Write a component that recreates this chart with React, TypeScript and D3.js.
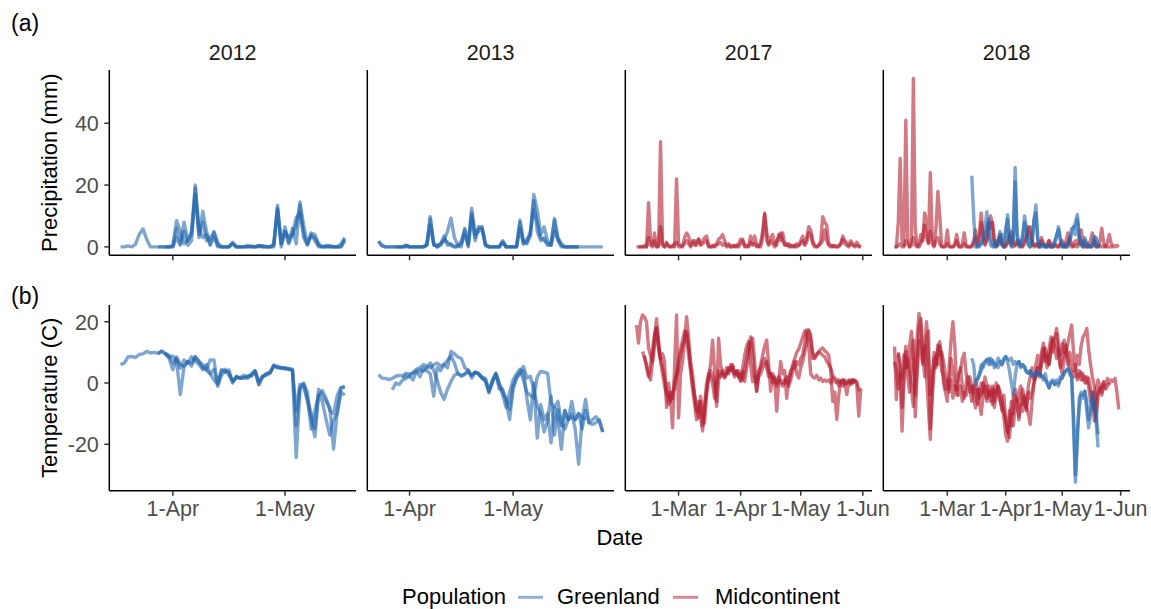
import React from "react";
import * as d3 from "d3";

// facets and groups
const years = ["2012", "2013", "2017", "2018"];
const populations = ["Greenland", "Midcontinent"];
const popColors = ["#2166AC", "#B2182B"];
// month breaks shown on the date axis (Mar..Jun, 0-based)
const breakMonths = [2, 3, 4, 5];

// ---- daily precipitation (mm), one array per tracked bird ----
const precip2012a = [
  0, 0, 0.3, 0, 0.8, 4, 5.8, 2.5, 0, 0, 0, 0, 0, 0,
  0, 3, 0.5, 8, 2, 4, 17, 3, 11.5, 5, 1, 3, 0.5, 0, 0, 0, 1, 0, 0, 0, 0.5, 0, 0, 0.5, 0, 0, 0, 1, 12, 1,
  5, 1, 4, 9.5, 11, 4, 1, 3.5, 3, 0.5, 0, 0, 0.5, 0, 0, 0, 2,
];
const precip2012b = [
  0, 0, 0, 0,
  0.5, 8.5, 5, 1, 2, 5, 20, 6, 3, 4, 0.5, 5, 1.5, 0, 0, 0, 1.5, 0, 0, 0, 0, 0.3, 0, 0, 0.5, 0, 0, 0.5, 13.5, 1,
  6.5, 1.5, 6, 1, 14.5, 7, 1, 4.5, 4, 1, 0, 0.5, 0, 0, 0, 1, 3,
];
const precip2012c = [
  0, 0,
  0, 6, 1, 5, 0.5, 2, 19, 4, 8, 2, 3, 4.5, 0, 0, 0, 0, 1, 0, 0, 0, 0, 0, 0, 0.4, 0, 0, 0, 0, 12.5, 0,
  5, 3, 4, 7, 13.5, 3, 0.5, 4, 2, 0, 0, 0, 0, 0, 0, 0, 2.5,
];
const precip2013a = [
  1.8, 0.5, 0, 0, 0, 0, 0, 0, 0.5,
  0, 0, 0, 0, 0, 0.5, 7, 1, 0, 1, 2, 5, 9.3, 3, 0.5, 0, 6, 1, 12.5, 4, 5, 6, 0.5, 0, 0, 0, 0, 1.5, 0, 0,
  0, 0, 6, 1, 2.5, 4, 17, 12, 4, 6.5, 2, 0.5, 5, 2.5, 0.5, 0, 0, 0, 0, 0, 0, 0, 0, 0, 0, 0, 0,
];
const precip2013b = [
  1.8, 0.3, 0, 0, 0, 0, 0, 0, 0.5,
  0, 0, 0, 0, 0, 1, 9.8, 0.5, 0.5, 1, 3.5, 0.5, 1, 0, 0.5, 1, 4, 0.5, 11, 3, 6.5, 6.5, 1, 0, 0, 0, 0, 2, 0, 0,
  0, 0, 8.6, 2, 1, 3.5, 15, 5, 2, 3, 0.5, 1, 9.2, 3, 1, 0, 0, 0, 0, 0,
];
const precip2013c = [
  0, 0, 0, 0,
  0, 0, 0, 0, 0, 0.5, 9, 1, 0, 0.5, 2.5, 1.5, 0.5, 0, 0, 2, 5.5, 0, 10, 2, 6, 6, 0.5, 0, 0, 0, 0, 1.5, 0, 0,
  0, 0, 8, 1, 1.5, 5, 12, 8, 3, 2, 1, 0.5, 8.5, 2, 0, 0, 0, 0, 0, 0,
];
const precip2017a = [
  0, 0, 0, 0, 0.5, 0, 3, 0.5, 0, 4.5, 0, 0, 34, 1, 0, 1.5, 0, 0, 0.5, 0, 22,
  1, 0.5, 0, 3, 4.5, 3.5, 0.5, 1, 2, 0.5, 2.5, 1, 2, 3, 3.5, 0.5, 0, 0, 0.5, 1, 2.5, 3, 4, 2, 0.5, 1, 0, 0.5, 0, 0.5, 0,
  1, 2, 0.5, 0, 0.5, 3.5, 1, 3.5, 0.5, 0, 1.5, 5, 10.5, 5, 1, 3, 4, 1, 0.5, 4, 2, 4.5, 1, 0.5, 1, 0, 0.5, 0, 1, 0.5,
  2, 3.5, 1, 3, 6.5, 5.5, 2, 0.5, 0, 0.5, 2, 9.8, 8, 7, 1, 0.5, 0, 0.5, 0, 0.5, 1, 3.5, 2, 1.5, 0.5, 2, 1, 0.5, 1.5, 0.5, 0,
];
const precip2017b = [
  0, 0, 0, 0, 0, 14.3, 2, 0.5, 2, 0, 0.5, 6.5, 0.5, 0, 1, 0.5, 0, 0, 1, 1.5,
  0, 0, 0.5, 1, 2, 1, 0, 2, 0.5, 1.5, 2.5, 0.5, 1, 1.5, 2, 0, 0, 0.5, 0, 0.5, 1, 1.5, 0.5, 1, 0, 0.5, 0, 0, 0.5, 0, 1,
  2.5, 2.5, 0, 0.5, 0, 1.5, 0.5, 1, 0, 0.5, 0, 3, 11, 2, 0.5, 2, 1, 0, 2, 3, 4.5, 2, 0.5, 1, 0, 0.5, 0, 0.5, 0, 0.5,
  1, 2, 0.5, 1.5, 4.5, 4, 1, 0, 0, 0.5, 1, 2, 5.5, 2, 0.5, 0, 0.5, 0, 0, 0, 1, 2.5, 1, 0.5, 0, 1, 0.5, 0, 0.5, 0, 0,
];
const precip2018a = [
  0, 0, 8, 28.6, 2, 0.5, 41, 3, 0, 2, 54.5, 6, 0.5, 0, 1, 3, 11, 8, 1.5, 24, 4, 0.5, 6, 17.9, 10, 0.5, 0, 0.5,
  5.5, 0.5, 0, 0, 1, 4, 0.5, 0, 1, 4.5, 0.5, 0, 0, 0.5, 2, 5.5, 1, 2, 8, 3, 1, 2, 6, 10, 7, 1, 0.5, 2, 4, 1, 0,
  0.5, 1, 3, 5, 2, 0.5, 1, 2, 0.5, 0, 1, 3, 5, 6.5, 2, 0.5, 1, 0, 0.5, 3, 1, 0.5, 0, 2, 0.5, 0, 1, 0.5, 0, 1,
  0.5, 0, 2, 4.5, 1, 0, 0.5, 2, 1, 3, 5.5, 2, 0.5, 0, 1, 2, 4.5, 1, 0, 0.5, 2, 6, 1, 0, 1.5, 4, 1, 0.5, 0, 0.5, 0,
];
const precip2018b = [
  0, 0, 0.5, 1, 0, 0, 2, 1, 0, 0.5, 3, 0.5, 0, 1, 4, 2, 7, 3, 1, 5, 1, 0, 2, 3, 1, 0, 0, 0,
  1, 0, 0, 0, 0.5, 2, 0, 0, 0, 1, 0, 0, 0, 0, 1, 3, 0.5, 4, 11, 4, 0.5, 3, 8, 6, 8, 2, 0, 1, 3, 0.5, 0,
  0, 2, 4, 1, 0, 0.5, 2, 1, 0, 0.5, 2, 4, 6.5, 3, 1, 0, 0.5, 1, 0, 2, 0.5, 0, 1, 2, 0, 0, 0.5, 0, 0, 1,
  2, 0.5, 0, 1, 3, 1, 0, 0.5, 0, 1, 2, 0.5, 0, 0, 0.5, 0, 1, 2, 0, 0, 0.5, 0, 0, 0.5, 0, 0, 0, 0,
];
const precip2018c = [
  23, 10, 0, 0, 0, 1, 2, 4, 6, 9, 3, 1, 0, 2, 0.5, 3, 4, 0.5,
  6, 9, 2, 0, 4, 21, 3, 0.5, 1, 4, 8, 5, 1, 0, 2, 9, 11, 2, 0, 0.5, 1, 0, 0.5, 0, 0, 1, 2, 4, 5.5, 2,
  0, 0.5, 0, 1, 3, 6, 6, 8, 10.5, 4, 1, 0, 2, 1, 0, 0.5, 0, 1, 3, 1, 0,
];
const precip2018d = [
  0, 0, 0.5, 1, 3, 6, 11.4, 4, 0.5, 0, 1, 0, 2, 5, 1, 0,
  4, 10.4, 3, 0.5, 2, 25.7, 5, 0, 0.5, 3, 10, 6, 0.5, 0, 1, 8, 13.6, 3, 0, 0, 0.5, 0, 0, 0.5, 0, 0, 1, 3, 6.5, 3,
  0, 0, 0.5, 0, 2, 4, 6.5, 4, 9, 3, 0.5, 0, 3, 1, 0, 0, 0.5, 3.5, 1, 0, 0,
];

// ---- daily mean temperature (C) ----
const temp2012a = [
  6, 6.5, 8.5, 8.7, 8.3, 9.3, 9.5, 10.3, 9.8, 10, 9.7, 10.5, 9.5, 8,
  4.3, 8.5, 6, 5.5, 7, 6.5, 8.6, 7, 5, 4.5, 7.5, 7.5, -1.1, 2.5, 4, 3.5, 0.5, 2, 1.5, 1.8, 2.3, 2.5, 4, -0.5, 2, 3, 3.5, 5.5, 5, 5,
  4.8, 4.5, 4, -24.3, -2, -1, -6, -12, -17.5, -4, -6, -12, -17, -12, -10, -3, -4,
];
const temp2012b = [
  9.5, 10.3, 9.5, 8.5,
  8.8, 7, -3.8, 5.4, 7, 5.5, 8.5, 7, 6, 4, 3, 1, -0.5, 4.3, 3.5, 4.3, 0, 2.2, 1.5, 1.6, 2, 2.2, 3.8, -0.5, 2.2, 2.5, 3.2, 5.9, 5, 4.8,
  5, 4.5, 4.3, -9, -0.5, -0.5, -5, -10, -15, -2, -4, -6, -8, -21.6, -9, -1.6, -1,
];
const temp2012c = [
  9.8, 9,
  6.5, 8, 4.8, 7.5, 6.5, 8.6, 7.2, 6, 4.3, 6, 3, 4.5, 0, 4, 4.5, 2.5, 0.5, 1.8, 1.8, 2.5, 1.5, 3, 4, 0.5, 2, 3, 3.5, 5.5, 5.5, 5,
  4.5, 4.8, 4.5, -14, -1.5, 0, -3, -15, -9, -4, -2.5, -5, -9, -10, -4, -1.5, -1.5,
];
const temp2013a = [
  2.7, 1.6, 1.5, 1.1, 1.5, 2.2, 2.5, 2.4, 3.2,
  3, 3.2, 3.5, 4.3, 3.8, 5, 6.5, 4, 1, -3, -5.4, -2, 0.5, 2.5, 3.2, 2.2, 2.8, 4.3, 1.6, 3.5, 3.2, 1.6, 0.5, -3.2, 0, 3.2, 0, -3, -5, -8.6,
  -1, 2, 3.5, 5.4, 1.6, 2.2, -2, -7.5, -10, -16, -12, -4.3, -17, -8.6, -14, -9, -12, -11, -12, -10, -15, -9, -13, -13.5, -13, -12, -16,
];
const temp2013b = [
  -2.2, 0, -0.5, 1, 1.5,
  2.2, 1, 4, 2, 5, 4, 3, -4.3, 5, 4, 6, 5, 10.3, 9.5, 8.5, 8, 5, 4, 2.5, 3.5, 3, 1.5, 1, -2.5, 0.5, 3, -2, -2, -6, -11.9,
  -2, 1.5, 3, 4, -5, -12, 0, -18, -7, -12, -10, -19.5, -8, -12, -21.6, -9, -12, -10, -15, -26.5, -12, -5.4, -13, -12, -11, -12.5, -16,
];
const temp2013c = [
  1.6, 2.5,
  2.2, 3.5, 4.5, 5, 6, 5.5, 5, 6, 6.5, 5.5, 6, 7.5, 8.8, 6.5, 3, 2.5, 3, 3.5, 2.5, 3.5, 2.8, 2, 1.5, -2.8, 1, 2.8, -0.5, -4, -8, -3,
  1, 3, 4.5, 1, -3, -4, -5, 2, 3.8, 3.5, 3.2, -6.5, -8, -6, -13, -15, -12, -6, -12, -10, -11, -12,
];
const temp2017a = [
  18.9, 13, 20, 22.2, 21.5, 20, 11.4, 9, 7, 15, 21, 14, 8, 9.5, 7, -8, 0, -5, -14.6, 5,
  22.2, -11.4, 3, 7, 14, 21.6, 15, 5, 0, -4, -9.2, -6, -11, -15.7, -8, -3, 2.7, 6, 14, 4,
  -6, 14.6, 6, 3, 1.6, 3, 5, 4, 6, 3, 3.8, 2, 0.5, 5, 9, 12, 13.5, 6, 0.5, 2,
  -2.7, 3, 6, 9, 12, 14, 6, -2.7, 3, 1, -9.2, 0, 7, 3, 4, -5, 2, 4, 5, 7,
  3, 1.6, 5, 7, 10, 13, 17.3, 14, 10, 8, 9, 10.3, 11, 11.4, 10.5, 10, 9, 4, -6, -3,
  -11.9, -4, 0.5, 1, 0, -3.8, 0, 1, 0, 1, -0.5, -10.8, -2,
];
const temp2017b = [
  10.3, 8, 6, 3, 1, 7, 12.4, 17.8, 12, 8, 5, 1.6, -2, -4, -6, -3, -2, 2, 5, 9.2,
  12, 14, 16.8, 12, 7, 3, -4, -8, -11.4, -4.3, -10, -13, -3.8, 1, 4, 2.7, 0, -7.6, 1, 3,
  3.2, 2, 3.2, 4, 5, 5.4, 3, 2.7, 4, 1, 3.8, 0.5, 5, 9, 13, 14.6, 7, -2.7, 2, 3,
  4.9, 6, 7, 4, 3, 1.6, 1, 0, 2, 1, 0, 1, 0.5, -1.1, 1, 3.8, 5, 7, 6, 8,
  9.2, 13, 17.3, 17, 15.7, 8, 8.5, 9.5, 10, 9.7, 9, 8.6, 7, 6, 4.9, 2.5, 1.6, 1, -1, 0.5,
  1, -0.5, 0, 1, 0, 1, 0.5, 0.5, -2.2, -1.5,
];
const temp2017c = [
  9, 5, 2, 6, 11, 16, 18, 11, 7, 3, -1, -4, -7, -3, -5, 1, 3, 7, 11, 14,
  17, 15, 9, 4, -2, -7, -12, -9, -6, -14, -7, 0, 3, 2, 0, -5, 1, 4, 2, 4,
  3, 5, 3, 6, 4, 2, 4, 2, 3, 1, 4, 8, 12, 15, 9, 2, 0, 4, 5, 7,
  8, 5, 2, 3, 0, 2, -1, 1, 0, -1, 0, 2, 0, 3, 6, 8, 10, 11, 13, 15,
  17, 16, 12, 3, 2, 1.6, 2.5, 1, 1.6, 0.5, 1, 0.5, 1, 0, 1.6, 0.5, 0, 1, 0, -1,
  1, 0, 0.5, -0.5, 1, 0,
];
const temp2018a = [
  11.9, -5.4, 9.2, 3, -15.7, 0, 10.3, 5, 12, 16.8, 8, -11, 3, 14, 10, 6, 12, 2, -8, -18.4,
  -2, 10, 6, 11, 13.5, 9, 0, -3, -6, 5, 14, 20, 12, -2, 3, 4, 8, 9.7, 3, 0,
  2, -1, -3, 1, -2, -5, 0, -3, 2, -1, -4, -6, -2, -8, -3, -1, -5, -9, -4, -12,
  -16, -9, -14, -4, -2, -6, -3, -1, -7, -5, -8, -10, -13.5, -6, 0, 3, 5, 2, 6, 8,
  11.4, 9, 6, 12, 14, 15, 17.8, 13, 6, 3, 8, 10, 13, 16, 18.9, 10, 5, 9, 6, 12,
  15, 16, 17.8, 11, 6, 2, -1, -12.4, -4, -2, -1, 0.5, -0.5, 1.5, 0, 1, 0.5, 1.5, -3, -8.6,
];
const temp2018b = [
  7, 4, -2, 3, 1.6, 9.2, 5, 8, 3.8, -2, -7.6, 6, 15, 22.7, 18, 7, 12, 20, 8, -3.8,
  3, 8.1, 5, 12.4, 9, 10, 7, 3, 0.5, -2, 1, -4.9, -1, -1.6, -4, -1, -6, -3, -4, -0.5,
  -3, -1, -5, -8.1, -2, -6, -10.3, -4, -1, -5, -2.7, -4, -1, -6, -3, -1, -2.7, -5, -9, -12,
  -15, -17.8, -10, -14, -8.1, -5, -11, -7, -9.2, -4, -8, -3, -5, -2.7, 0, 2, 4.9, 3, 8, 11.4,
  7, 9, 6, 10, 14.6, 12, 8, 11, 9.2, 13, 10, 12.4, 8, 5, 3.8, 2, 4, 1, 2.7, 3.5,
  1, 2, 0, 1.6, -2, -5, -12.4, -8, -3, -1.6, -3, -1, -2,
];
const temp2018c = [
  10, 6, -8, 4, 12, 2, -3, 8, 14, -4, 5, 18, 21, 10, 2, 15, 17, -15, -5, 4,
  9, 6, 12, 4, 2, -2, 1, -3, 8, 4, 0, -4, 2, 5, -1, -5, 0, 2, -2, -6,
  -1, -3, -7, -2, -4, 0, -3, -6, -1, -3, -7, -2, 0, -4, -6, -8, -11, -17, -19, -12,
  -6, -10, -4, -7, -12, -5, -2, -6, -9, -1, 2, 5, 1, 6, 9, 5, 10, 13, 8, 5,
  11, 15, 10, 13, 16, 9, 5, 8, 14, 9, 6, 10, 7, 4, 6, 2, 4, 1, 3, 0,
  2, -1, -6, -3, -9, -2, 1, -1, -4, 0, -2, -1, 0,
];
const temp2018d = [
  8.1, 6, -0.5, 1, 2.7, 4, 6.5, 7, 7.6, 6, 8, 7, 5, 6, 8.1, 7, 6, 8, 8.6, 7,
  4, 0, -3.8, 2, 6, 7, 5, 6, 5.4, 4, 3.2, 4, 2, 2.7, 3.5, 2.5, 3.2, 2, 1, 3,
  0, -1.6, 0.5, 1, -0.5, 0, -1, 1, 2, 3, 4, 4.9, 3, 1.6, -10, -30, -15.7, -8, -3.8, -5,
  -2.7, -9, -14.6, -10, -5, -7, -13, -21,
];
const temp2018e = [
  1, 2.7, 5.9, 5, 6.5, 7.6, 8, 6, 7.3, 6.5, 5.5, 5, 7, 6, 7.5, 8.6, 8, 7.5, 8.1, 6,
  7, 6.5, 7, 5.5, 6, 5, 3.5, 3.2, 4, 3, 2.5, 3, 3.8, 3.2, 2.5, 2, 1, 0, -1.6, 0,
  0.5, -0.5, 1, 0, 2, 1.5, 3.5, 4, 4.5, 3.5, 2, -15, -32.4, -20, -5, -3, -4, -2.7, -6, -12,
  -8, -3, -7, -10, -16.8,
];

type Track = { year: string; pop: string; start: string; values: number[] };

const precipTracks: Track[] = [
  { year: "2012", pop: "Greenland", start: "2012-03-18", values: precip2012a },
  { year: "2012", pop: "Greenland", start: "2012-03-28", values: precip2012b },
  { year: "2012", pop: "Greenland", start: "2012-03-30", values: precip2012c },
  { year: "2013", pop: "Greenland", start: "2013-03-23", values: precip2013a },
  { year: "2013", pop: "Greenland", start: "2013-03-23", values: precip2013b },
  { year: "2013", pop: "Greenland", start: "2013-03-28", values: precip2013c },
  { year: "2017", pop: "Midcontinent", start: "2017-02-08", values: precip2017a },
  { year: "2017", pop: "Midcontinent", start: "2017-02-09", values: precip2017b },
  { year: "2018", pop: "Midcontinent", start: "2018-02-01", values: precip2018a },
  { year: "2018", pop: "Midcontinent", start: "2018-02-01", values: precip2018b },
  { year: "2018", pop: "Greenland", start: "2018-03-14", values: precip2018c },
  { year: "2018", pop: "Greenland", start: "2018-03-16", values: precip2018d },
];

const tempTracks: Track[] = [
  { year: "2012", pop: "Greenland", start: "2012-03-18", values: temp2012a },
  { year: "2012", pop: "Greenland", start: "2012-03-28", values: temp2012b },
  { year: "2012", pop: "Greenland", start: "2012-03-30", values: temp2012c },
  { year: "2013", pop: "Greenland", start: "2013-03-23", values: temp2013a },
  { year: "2013", pop: "Greenland", start: "2013-03-27", values: temp2013b },
  { year: "2013", pop: "Greenland", start: "2013-03-30", values: temp2013c },
  { year: "2017", pop: "Midcontinent", start: "2017-02-08", values: temp2017a },
  { year: "2017", pop: "Midcontinent", start: "2017-02-11", values: temp2017b },
  { year: "2017", pop: "Midcontinent", start: "2017-02-12", values: temp2017c },
  { year: "2018", pop: "Midcontinent", start: "2018-02-01", values: temp2018a },
  { year: "2018", pop: "Midcontinent", start: "2018-02-01", values: temp2018b },
  { year: "2018", pop: "Midcontinent", start: "2018-02-03", values: temp2018c },
  { year: "2018", pop: "Greenland", start: "2018-03-14", values: temp2018d },
  { year: "2018", pop: "Greenland", start: "2018-03-17", values: temp2018e },
];

const parseDay = d3.timeParse("%Y-%m-%d");
const fmtTick = d3.timeFormat("%-d-%b");

function toPoints(t: Track): [Date, number][] {
  const s = parseDay(t.start) as Date;
  return t.values.map((v, i) => [d3.timeDay.offset(s, i), v]);
}

// ggplot-like 5% expansion
function expand(a: number, b: number): [number, number] {
  const s = b - a;
  return [a - s * 0.05, b + s * 0.05];
}

const FONT = "Liberation Sans, Arial, Helvetica, sans-serif";
const W = 1151;
const H = 609;
const panelLeft = 109.3;
const panelW = 246.7;
const panelGap = 11.3;
const lineW = 3.4;

const rows = [
  { key: "precip", top: 70, bottom: 255.3, tracks: precipTracks, title: "Precipitation (mm)", tag: "(a)", tagY: 30.5 },
  { key: "temp", top: 305, bottom: 490.7, tracks: tempTracks, title: "Temperature (C)", tag: "(b)", tagY: 304 },
];

export default function App() {
  // free x per year column
  const xScales = years.map((yr, i) => {
    const dates = [...precipTracks, ...tempTracks]
      .filter((t) => t.year === yr)
      .flatMap((t) => toPoints(t).map((p) => +p[0]));
    const [a, b] = expand(d3.min(dates)!, d3.max(dates)!);
    const left = panelLeft + i * (panelW + panelGap);
    return d3.scaleTime().domain([new Date(a), new Date(b)]).range([left, left + panelW]);
  });

  return (
    <svg width={W} height={H} style={{ position: "absolute", left: 0, top: 0, background: "#fff" }} fontFamily={FONT}>
      {rows.map((row, ri) => {
        const vals = row.tracks.flatMap((t) => t.values);
        const y = d3.scaleLinear().domain(expand(d3.min(vals)!, d3.max(vals)!)).range([row.bottom, row.top]);
        const yTicks = y.ticks(3);
        const midY = (row.top + row.bottom) / 2;
        return (
          <g key={row.key}>
            <text x={11} y={row.tagY} fontSize={23} fill="#000">{row.tag}</text>
            <text transform={`translate(57,${midY}) rotate(-90)`} textAnchor="middle" fontSize={22} fill="#000">
              {row.title}
            </text>
            {years.map((yr, ci) => {
              const x = xScales[ci];
              const [x0, x1] = x.range();
              const line = d3.line<[Date, number]>().x((d) => x(d[0])).y((d) => y(d[1]));
              const tracks = row.tracks
                .filter((t) => t.year === yr)
                .sort((a, b) => populations.indexOf(b.pop) - populations.indexOf(a.pop));
              const xTicks = x.ticks(d3.timeMonth.every(1)!).filter((d) => breakMonths.includes(d.getMonth()));
              return (
                <g key={yr}>
                  {ri === 0 && (
                    <text x={(x0 + x1) / 2} y={60} textAnchor="middle" fontSize={21.5} fill="#1a1a1a">{yr}</text>
                  )}
                  {tracks.map((t, ti) => (
                    <path
                      key={ti}
                      d={line(toPoints(t)) || ""}
                      fill="none"
                      stroke={popColors[populations.indexOf(t.pop)]}
                      strokeOpacity={0.58}
                      strokeWidth={lineW}
                      strokeLinejoin="round"
                    />
                  ))}
                  <line x1={x0} x2={x0} y1={row.top} y2={row.bottom} stroke="#000" strokeWidth={1.5} />
                  <line x1={x0} x2={x1} y1={row.bottom} y2={row.bottom} stroke="#000" strokeWidth={1.5} />
                  {xTicks.map((d) => (
                    <g key={+d}>
                      <line x1={x(d)} x2={x(d)} y1={row.bottom} y2={row.bottom + 5} stroke="#333" strokeWidth={1.5} />
                      {ri === 1 && (
                        <text x={x(d)} y={516} textAnchor="middle" fontSize={21.5} fill="#4d4d4d">{fmtTick(d)}</text>
                      )}
                    </g>
                  ))}
                  {ci === 0 &&
                    yTicks.map((v) => (
                      <g key={v}>
                        <line x1={x0 - 5} x2={x0} y1={y(v)} y2={y(v)} stroke="#333" strokeWidth={1.5} />
                        <text x={x0 - 10.5} y={y(v) + 8} textAnchor="end" fontSize={21.5} fill="#4d4d4d">{v}</text>
                      </g>
                    ))}
                </g>
              );
            })}
          </g>
        );
      })}
      <text x={(panelLeft + panelLeft + 4 * panelW + 3 * panelGap) / 2} y={545} textAnchor="middle" fontSize={22} fill="#000">
        Date
      </text>
      {/* legend */}
      <g fontSize={22} fill="#000">
        <text x={402} y={603.5}>Population</text>
        <line x1={518} x2={543} y1={597.3} y2={597.3} stroke={popColors[0]} strokeOpacity={0.5} strokeWidth={3} />
        <text x={557} y={603.5}>{populations[0]}</text>
        <line x1={673} x2={698} y1={597.3} y2={597.3} stroke={popColors[1]} strokeOpacity={0.5} strokeWidth={3} />
        <text x={715} y={603.5}>{populations[1]}</text>
      </g>
    </svg>
  );
}
